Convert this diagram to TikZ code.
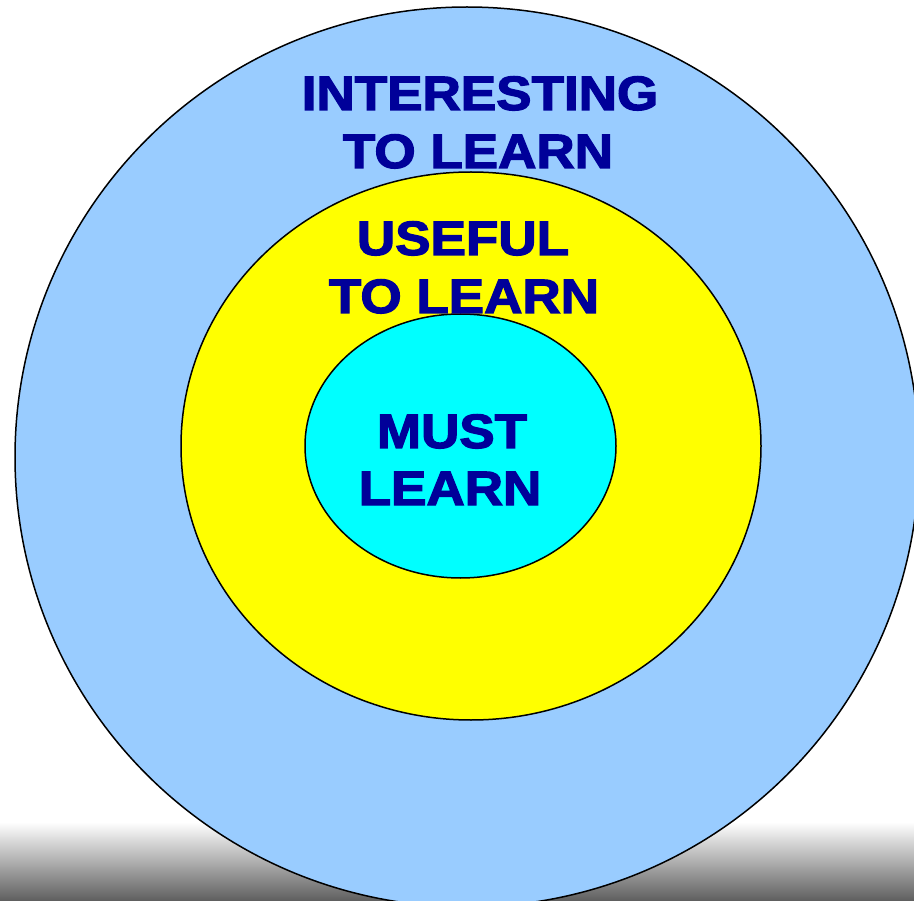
\documentclass[tikz,border=0pt]{standalone}
\usepackage{fontspec}
\setmainfont{Liberation Sans}
\newfontfamily\heavyfont{Liberation Sans}[BoldFeatures={FakeBold=2.5}]
\definecolor{outerblue}{HTML}{99CCFF}
\definecolor{midyellow}{HTML}{FFFF00}
\definecolor{innercyan}{HTML}{00FFFF}
\definecolor{labelblue}{HTML}{000099}
\tikzset{
  ring/.style={draw=black, line width=1.5pt},
  ringlabel/.style={anchor=base, inner sep=0pt, text=labelblue,
    font=\heavyfont\fontsize{48.2}{57}\selectfont\bfseries},
}
\newcommand{\wide}[1]{\scalebox{1.1}[1]{#1}}
\begin{document}
\begin{tikzpicture}[x=1pt, y=-1pt]
\useasboundingbox (0,0) rectangle (914,901);
\clip (0,0) rectangle (914,901);
\fill[white] (0,0) rectangle (914,901);
\shade[top color=white, bottom color=black!63] (0,822) rectangle (914,901);
\draw[ring, fill=outerblue] (467,457) ellipse [x radius=452, y radius=450];
\draw[ring, fill=midyellow] (471,446) ellipse [x radius=290, y radius=274];
\draw[ring, fill=innercyan] (460.5,446) ellipse [x radius=155.5, y radius=132];
\node[ringlabel] (int1) at (480,110) {\wide{INTERESTING}};
\node[ringlabel] (int2) at (478,168) {\wide{TO LEARN}};
\node[ringlabel] (use1) at (463,255) {\wide{USEFUL}};
\node[ringlabel] (use2) at (464,313) {\wide{TO LEARN}};
\node[ringlabel] (must1) at (452,448) {\wide{MUST}};
\node[ringlabel] (must2) at (450,505) {\wide{LEARN}};
\end{tikzpicture}
\end{document}
